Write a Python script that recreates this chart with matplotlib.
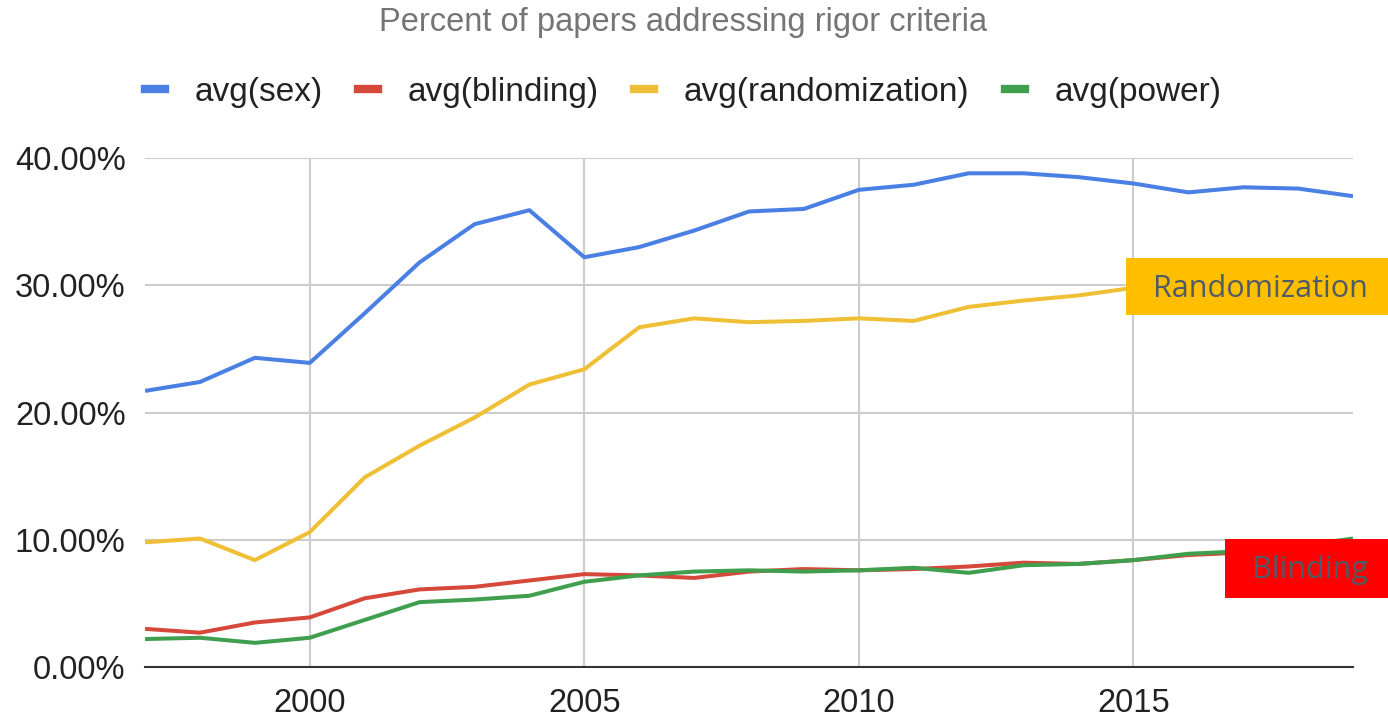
import matplotlib
matplotlib.use("Agg")
import matplotlib.pyplot as plt
from matplotlib.lines import Line2D
from matplotlib.patches import Rectangle
from matplotlib.ticker import FuncFormatter

years = list(range(1997, 2020))
avg_sex = [21.7, 22.4, 24.3, 23.9, 27.8, 31.8, 34.8, 35.9, 32.2, 33.0, 34.3, 35.8,
           36.0, 37.5, 37.9, 38.8, 38.8, 38.5, 38.0, 37.3, 37.7, 37.6, 37.0]
avg_blinding = [3.0, 2.7, 3.5, 3.9, 5.4, 6.1, 6.3, 6.8, 7.3, 7.2, 7.0, 7.5,
                7.7, 7.6, 7.7, 7.9, 8.2, 8.1, 8.4, 8.8, 9.0, 9.3, 9.6]
avg_randomization = [9.8, 10.1, 8.4, 10.6, 14.9, 17.4, 19.6, 22.2, 23.4, 26.7, 27.4, 27.1,
                     27.2, 27.4, 27.2, 28.3, 28.8, 29.2, 29.8, 30.2, 30.5, 30.8, 31.0]
avg_power = [2.2, 2.3, 1.9, 2.3, 3.7, 5.1, 5.3, 5.6, 6.7, 7.2, 7.5, 7.6,
             7.5, 7.6, 7.8, 7.4, 8.0, 8.1, 8.4, 8.9, 9.1, 9.5, 10.1]

series_names = ["avg(sex)", "avg(blinding)", "avg(randomization)", "avg(power)"]
series_colors = ["#4a7fe3", "#d6493a", "#efbf35", "#3f9f4f"]

plt.rcParams["font.family"] = ["Liberation Sans", "DejaVu Sans"]

fig = plt.figure(figsize=(13.88, 7.18), dpi=100)
ax = fig.add_axes([0.1045, 0.0710, 0.8703, 0.7089])

for values, color, name in zip([avg_sex, avg_blinding, avg_randomization, avg_power],
                               series_colors, series_names):
    ax.plot(years, values, color=color, linewidth=2.9, label=name,
            solid_capstyle="butt", zorder=3)

ax.set_xlim(1997, 2019)
ax.set_ylim(0, 40)
ax.set_xticks([2000, 2005, 2010, 2015])
ax.set_yticks([0, 10, 20, 30, 40])
ax.yaxis.set_major_formatter(FuncFormatter(lambda v, _: f"{v:.2f}%"))
ax.grid(True, color="#cccccc", linewidth=1.5)
ax.set_axisbelow(True)
for side in ["top", "left", "right"]:
    ax.spines[side].set_visible(False)
ax.spines["bottom"].set_color("#333333")
ax.spines["bottom"].set_linewidth(1.5)
ax.spines["bottom"].set_zorder(4)
ax.tick_params(length=0, labelsize=23.5, labelcolor="#222222")
ax.tick_params(axis="y", pad=14)
ax.tick_params(axis="x", pad=15)

fig.text(683 / 1388, 1 - 23 / 718, "Percent of papers addressing rigor criteria",
         ha="center", va="center", fontsize=23.5, color="#757575")

handles = [Line2D([0], [0], color=c, linewidth=6) for c in series_colors]
fig.legend(handles, series_names, loc="center", ncol=4,
           bbox_to_anchor=(683 / 1388, 1 - 92 / 718), frameon=False,
           fontsize=24, handlelength=0.6, handletextpad=0.9, columnspacing=1.05,
           labelcolor="#222222")

# highlight tags on the right edge
fig.patches.append(Rectangle((1126 / 1388, 1 - 315 / 718), 262 / 1388, 57 / 718,
                             transform=fig.transFigure, facecolor="#ffbf00",
                             edgecolor="none", zorder=5))
fig.text(1260 / 1388, 1 - 289 / 718, "Randomization", ha="center", va="center",
         fontsize=22, color="#4f5b66", family=["Open Sans", "DejaVu Sans"], zorder=6)
fig.patches.append(Rectangle((1225 / 1388, 1 - 598 / 718), 163 / 1388, 59 / 718,
                             transform=fig.transFigure, facecolor="#ff0000",
                             edgecolor="none", zorder=5))
fig.text(1310 / 1388, 1 - 570 / 718, "Blinding", ha="center", va="center",
         fontsize=22, color="#4f5b66", family=["Open Sans", "DejaVu Sans"], zorder=6)

fig.savefig("out.png", dpi=100)
